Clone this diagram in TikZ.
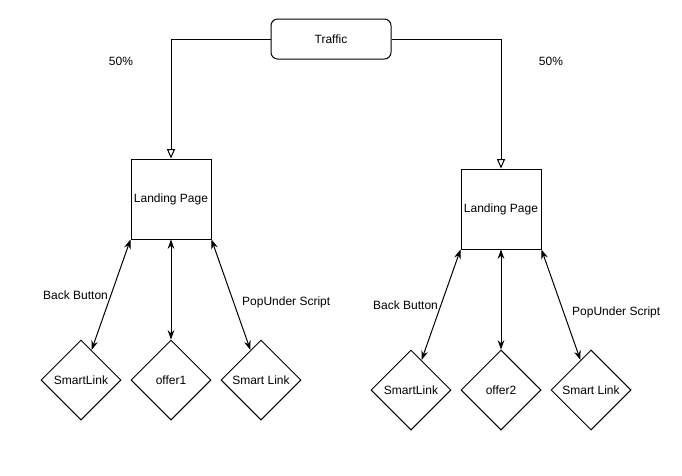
\documentclass[tikz,border=0pt]{standalone}
\usepackage{fontspec}
\setmainfont{Liberation Sans}
\usetikzlibrary{arrows.meta, positioning, shapes.geometric}

\begin{document}
\begin{tikzpicture}[
  x=0.75pt, y=-0.75pt,
  font=\fontsize{9}{11}\selectfont,
  >={Stealth[length=7pt, width=5pt]},
  srcbox/.style={draw, line width=0.75pt, rounded corners=5pt,
    minimum width=90pt, minimum height=30pt},
  pagebox/.style={draw, line width=0.75pt, minimum width=60pt,
    minimum height=60pt, inner sep=1pt},
  linkdia/.style={draw, diamond, line width=0.75pt, minimum width=60pt,
    minimum height=60pt, inner sep=1pt},
  split/.style={-{Triangle[open, length=7pt, width=6pt]}, line width=0.75pt},
  arr/.style={<->, line width=0.75pt},
  lbl/.style={inner sep=2pt},
]

% Canvas
\useasboundingbox (0,0) rectangle (682,475);

% Source
\node[srcbox] (traffic) at (331,39) {Traffic};

\node (pct1) at (121,61) {50\%};
\node (pct2) at (551,61) {50\%};

% =============================================
% Left branch
% =============================================
\node[pagebox] (lp1) at (171,199) {Landing Page};

\node[linkdia] (sl1) at (81,380)  {SmartLink};
\node[linkdia] (of1) at (171,380) {offer1};
\node[linkdia] (sk1) at (261,380) {Smart Link};

\draw[split] (traffic.west) -| (lp1.north);

\draw[arr] (lp1.south west) -- node[lbl, left] {Back Button} (sl1);
\draw[arr] (lp1.south) -- (of1);
\draw[arr] (lp1.south east) -- node[lbl, pos=.57, right=4pt] {PopUnder Script} (sk1);

% =============================================
% Right branch
% =============================================
\node[pagebox] (lp2) at (501,209) {Landing Page};

\node[linkdia] (sl2) at (411,390) {SmartLink};
\node[linkdia] (of2) at (501,390) {offer2};
\node[linkdia] (sk2) at (591,390) {Smart Link};

\draw[split] (traffic.east) -| (lp2.north);

\draw[arr] (lp2.south west) -- node[lbl, left] {Back Button} (sl2);
\draw[arr] (lp2.south) -- (of2);
\draw[arr] (lp2.south east) -- node[lbl, pos=.57, right=4pt] {PopUnder Script} (sk2);

\end{tikzpicture}
\end{document}
